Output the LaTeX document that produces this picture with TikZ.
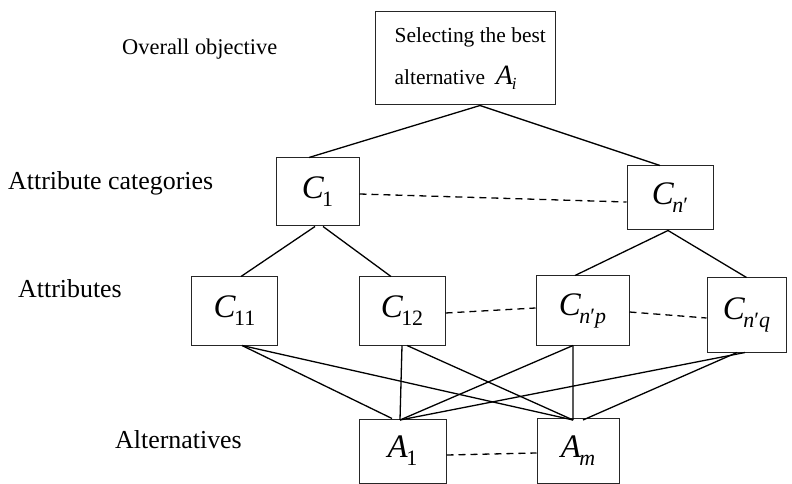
\documentclass[tikz,border=0pt]{standalone}
\usepackage{fontspec}
\setmainfont{Liberation Serif}
\usetikzlibrary{calc}
\newcommand\symb[2]{{\fontsize{33}{33}\selectfont\itshape #1}\kern-1.5bp\raisebox{-8bp}{\fontsize{22}{22}\selectfont #2}}
\newcommand\prm{\upshape′\itshape}
\tikzset{
  box/.style={draw=black!85, line width=1bp, rectangle, inner sep=0pt, align=center},
  conn/.style={line width=1.3bp, black},
  dconn/.style={line width=1.3bp, black, dash pattern=on 7bp off 5bp},
  lab/.style={font=\fontsize{26}{26}\selectfont, anchor=base west, inner sep=0pt}
}
\begin{document}
\begin{tikzpicture}[x=1bp, y=-1bp]
\useasboundingbox (0,0) rectangle (792,484);
% labels
\node[lab, font=\fontsize{22.5}{22.5}\selectfont] (l1) at (122,55) {Overall objective};
\node[lab] (l2) at (8,190) {Attribute categories};
\node[lab] (l3) at (18,298) {Attributes};
\node[lab] (l4) at (115,448) {Alternatives};
% boxes
\node[box, minimum width=180bp, minimum height=93bp] (top) at (465,58.5) {};
\node[anchor=west, inner sep=0pt, align=left, font=\fontsize{21.5}{42}\selectfont] (toptext) at ([xshift=20bp]top.west)
  {Selecting the best\\alternative \ {\fontsize{28}{28}\selectfont\itshape A}\kern-1bp\raisebox{-5bp}{\fontsize{17}{17}\selectfont\itshape i}};
\node[box, minimum width=83bp, minimum height=68bp] (c1) at (317.5,192) {\symb{C}{1}};
\node[box, minimum width=86bp, minimum height=64bp] (cn) at (670,198) {\symb{C}{\itshape n\prm}};
\node[box, minimum width=86bp, minimum height=68bp] (c11) at (234.5,311) {\symb{C}{11}};
\node[box, minimum width=86bp, minimum height=68bp] (c12) at (402,311) {\symb{C}{12}};
\node[box, minimum width=93bp, minimum height=69bp] (cnp) at (582.5,310.5) {\symb{C}{\itshape n\prm p}};
\node[box, minimum width=79bp, minimum height=74bp] (cnq) at (746.5,315) {\symb{C}{\itshape n\prm q}};
\node[box, minimum width=87bp, minimum height=64bp] (a1) at (402.5,451) {\symb{A}{1}};
\node[box, minimum width=82bp, minimum height=65bp] (am) at (578,450.5) {\symb{A}{\itshape m}};
% hierarchy lines
\coordinate (tapex) at ([xshift=15bp]top.south);
\draw[conn] (tapex) -- ([xshift=-8.5bp]c1.north);
\draw[conn] (tapex) -- ([xshift=-10bp]cn.north);
\draw[conn] ([xshift=-2.5bp]c1.south) -- ([xshift=6.5bp]c11.north);
\draw[conn] ([xshift=5.5bp]c1.south) -- ([xshift=-11bp]c12.north);
\draw[conn] ([xshift=-2bp]cn.south) -- ([xshift=-7.5bp]cnp.north);
\draw[conn] ([xshift=-2bp]cn.south) -- (cnq.north);
% dashed
\draw[dconn] ([yshift=-2bp]c1.east) -- ([yshift=-4bp]cn.west);
\draw[dconn] ([yshift=-2bp]c12.east) -- ([yshift=2.5bp]cnp.west);
\draw[dconn] ([yshift=-1.5bp]cnp.east) -- ([yshift=-3bp]cnq.west);
\draw[dconn] ([yshift=-4bp]a1.east) -- ([yshift=-2.5bp]am.west);
% alternatives lines
\coordinate (a1p) at ([xshift=-2.5bp,yshift=-1.5bp]a1.north);
\coordinate (a1q) at ([xshift=-10.5bp]a1.north);
\coordinate (amp) at ([xshift=-5bp,yshift=-2.5bp]am.north);
\coordinate (amq) at ([xshift=5bp,yshift=-2.5bp]am.north);
\draw[conn] ([xshift=7.5bp]c11.south) -- (a1q);
\draw[conn] ([xshift=7.5bp]c11.south) -- (amp);
\draw[conn] (c12.south) -- (a1p);
\draw[conn] ([xshift=5bp]c12.south) -- (amp);
\draw[conn] ([xshift=-9.5bp]cnp.south) -- (a1p);
\draw[conn] ([xshift=-9.5bp]cnp.south) -- (amp);
\draw[conn] ([xshift=-1.5bp]cnq.south) -- (a1p);
\draw[conn] ([xshift=-9.5bp]cnq.south) -- (amq);
\end{tikzpicture}
\end{document}
